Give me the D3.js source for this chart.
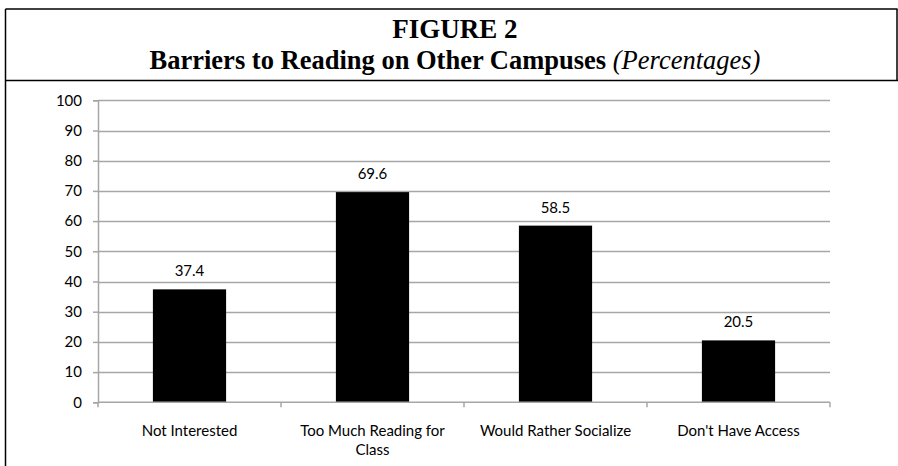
<!DOCTYPE html>
<html><head><meta charset="utf-8">
<script src="https://cdn.jsdelivr.net/npm/d3@7"></script>
<style>body{margin:0;background:#fff}svg{display:block}</style>
</head><body>
<script>
const categories = ["Not Interested", "Too Much Reading for Class", "Would Rather Socialize", "Don't Have Access"];
const categoryLines = [["Not Interested"], ["Too Much Reading for", "Class"], ["Would Rather Socialize"], ["Don't Have Access"]];
const values = [37.4, 69.6, 58.5, 20.5];
const yTicks = [0, 10, 20, 30, 40, 50, 60, 70, 80, 90, 100];

const W = 898, H = 466;
const svg = d3.select("body").append("svg").attr("width", W).attr("height", H);

// frame
const frameTop = 9;
svg.append("line").attr("x1", 5.5).attr("x2", 897.5).attr("y1", frameTop).attr("y2", frameTop).attr("stroke", "#000").attr("stroke-width", 1.5);
svg.append("line").attr("x1", 5.5).attr("x2", 5.5).attr("y1", frameTop).attr("y2", H).attr("stroke", "#000").attr("stroke-width", 1.5);
svg.append("line").attr("x1", 897).attr("x2", 897).attr("y1", frameTop).attr("y2", 81).attr("stroke", "#000").attr("stroke-width", 1.5);
svg.append("line").attr("x1", 5.5).attr("x2", 898).attr("y1", 80.5).attr("y2", 80.5).attr("stroke", "#000").attr("stroke-width", 1.5);

// titles
const serif = "Liberation Serif, Times New Roman, serif";
svg.append("text").attr("x", 455).attr("y", 38).attr("text-anchor", "middle")
  .attr("font-family", serif).attr("font-weight", "bold").attr("font-size", 27)
  .text("FIGURE 2");
const t2 = svg.append("text").attr("x", 455).attr("y", 69).attr("text-anchor", "middle")
  .attr("font-family", serif).attr("font-size", 26.5);
t2.append("tspan").attr("font-weight", "bold").text("Barriers to Reading on Other Campuses ");
t2.append("tspan").attr("font-style", "italic").text("(Percentages)");

const x0 = 98, x1 = 830, yTop = 100.3, yBot = 402.3;
const x = d3.scaleBand().domain(categories).range([x0, x1]).paddingInner(0.6).paddingOuter(0.3);
const y = d3.scaleLinear().domain([0, 100]).range([yBot, yTop]);

const font = "Lato, Open Sans, sans-serif";
const grid = "#a6a6a6";

// gridlines
svg.append("g").selectAll("line").data(yTicks.filter(d => d > 0)).join("line")
  .attr("x1", x0).attr("x2", x1).attr("y1", d => Math.round(y(d)) + 0.5).attr("y2", d => Math.round(y(d)) + 0.5)
  .attr("stroke", grid).attr("stroke-width", 1.5);

// y axis
const yAxis = svg.append("g").attr("transform", `translate(${x0},0)`)
  .call(d3.axisLeft(y).tickValues(yTicks).tickSize(5).tickPadding(11).tickFormat(d3.format("d")));
yAxis.select(".domain").attr("stroke", grid).attr("stroke-width", 1.5);
yAxis.selectAll(".tick line").attr("stroke", grid).attr("stroke-width", 1.5);
yAxis.selectAll("text").attr("font-family", font).attr("font-size", 15).attr("fill", "#000");

// bars
svg.append("g").selectAll("rect").data(values).join("rect")
  .attr("x", (d, i) => x(categories[i])).attr("width", x.bandwidth())
  .attr("y", d => y(d)).attr("height", d => yBot - y(d)).attr("fill", "#000");

// x axis
const xb = d3.scaleLinear().domain([0, categories.length]).range([x0, x1]);
svg.append("line").attr("x1", x0).attr("x2", x1).attr("y1", yBot).attr("y2", yBot).attr("stroke", grid).attr("stroke-width", 1.5);
svg.append("g").selectAll("line").data(d3.range(categories.length + 1)).join("line")
  .attr("x1", d => xb(d)).attr("x2", d => xb(d)).attr("y1", yBot).attr("y2", yBot + 5)
  .attr("stroke", grid).attr("stroke-width", 1.5);

// category labels
const cl = svg.append("g").selectAll("text").data(categoryLines).join("text")
  .attr("x", (d, i) => x(categories[i]) + x.bandwidth() / 2).attr("y", 436)
  .attr("text-anchor", "middle").attr("font-family", font).attr("font-size", 15).attr("fill", "#000");
cl.selectAll("tspan").data(d => d).join("tspan")
  .attr("x", function() { return this.parentNode.getAttribute("x"); })
  .attr("dy", (d, i) => i === 0 ? 0 : 19).text(d => d);

// value labels
svg.append("g").selectAll("text").data(values).join("text")
  .attr("x", (d, i) => x(categories[i]) + x.bandwidth() / 2).attr("y", d => y(d) - 13)
  .attr("text-anchor", "middle").attr("font-family", font).attr("font-size", 15).attr("fill", "#000")
  .text(d => d3.format(".1f")(d));
</script>
</body></html>
